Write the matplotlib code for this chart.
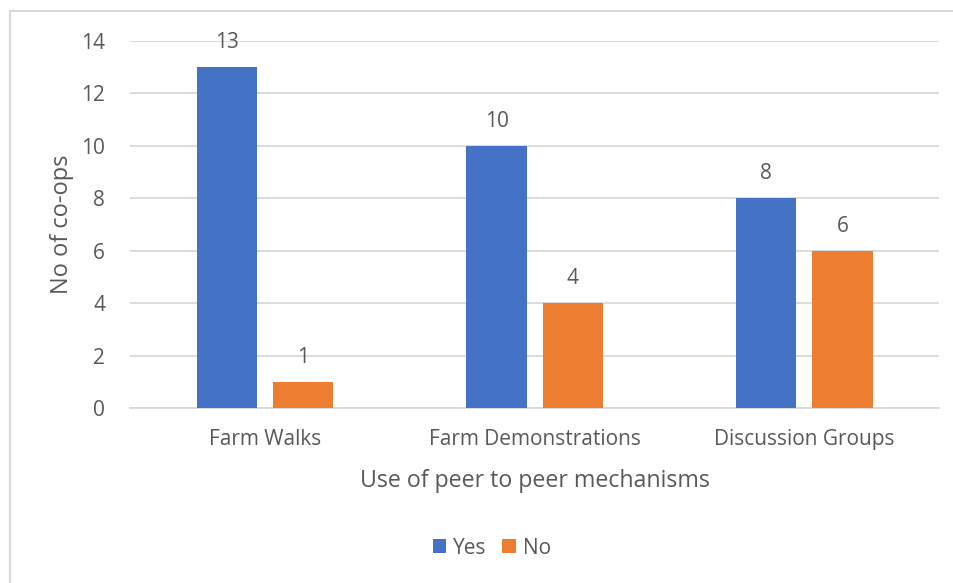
import matplotlib
matplotlib.use("Agg")
import matplotlib.pyplot as plt
import numpy as np
from matplotlib.lines import Line2D

categories = ["Farm Walks", "Farm Demonstrations", "Discussion Groups"]
yes_values = [13, 10, 8]
no_values = [1, 4, 6]
series_names = ["Yes", "No"]
y_ticks = [0, 2, 4, 6, 8, 10, 12, 14]

plt.rcParams['font.family'] = ['Open Sans', 'DejaVu Sans']
TXT = '#595959'
GRID = '#D9D9D9'
BLUE = '#4472C4'
ORANGE = '#ED7D31'

fig = plt.figure(figsize=(9.54, 5.83), dpi=100)
ax = fig.add_axes([0.1365, 0.3002, 0.848, 0.630])

x = np.arange(len(categories))
w = 0.2236
off = 0.1415
b1 = ax.bar(x - off, yes_values, w, color=BLUE, label=series_names[0], zorder=3)
b2 = ax.bar(x + off, no_values, w, color=ORANGE, label=series_names[1], zorder=3)

for bars in (b1, b2):
    for r in bars:
        ax.annotate(f"{int(r.get_height())}", (r.get_x() + r.get_width() / 2, r.get_height()),
                    xytext=(0, 17.5), textcoords='offset points', ha='center', va='center',
                    fontsize=15, color=TXT)

ax.set_xlim(-0.5, 2.5)
ax.set_ylim(0, 14)
ax.set_yticks(y_ticks)
ax.set_xticks(x)
ax.set_xticklabels(categories)
ax.tick_params(axis='both', length=0, labelsize=15, labelcolor=TXT)
ax.tick_params(axis='y', pad=18)
ax.tick_params(axis='x', pad=15)
ax.grid(axis='y', color=GRID, linewidth=1.3, zorder=0)
for s in ['top', 'right', 'left']:
    ax.spines[s].set_visible(False)
ax.spines['bottom'].set_color(GRID)
ax.spines['bottom'].set_linewidth(1.3)

ax.set_xlabel("Use of peer to peer mechanisms", fontsize=16.7, color=TXT, labelpad=14)
ax.set_ylabel("No of co-ops", fontsize=17, color=TXT, labelpad=5)

leg = fig.legend(handles=[b1, b2], labels=series_names, loc='center', bbox_to_anchor=(492/954, 1 - 548/583),
                 ncol=2, frameon=False, fontsize=15, handlelength=0.65, handleheight=0.65,
                 handletextpad=0.35, columnspacing=0.75, labelcolor=TXT)

# chart-area border (top and left visible)
fig.add_artist(Line2D([10/954, 10/954], [0, 1 - 11/583], transform=fig.transFigure, color=GRID, linewidth=1.5))
fig.add_artist(Line2D([10/954, 1], [1 - 11/583, 1 - 11/583], transform=fig.transFigure, color=GRID, linewidth=1.5))

fig.savefig("out.png", dpi=100)
